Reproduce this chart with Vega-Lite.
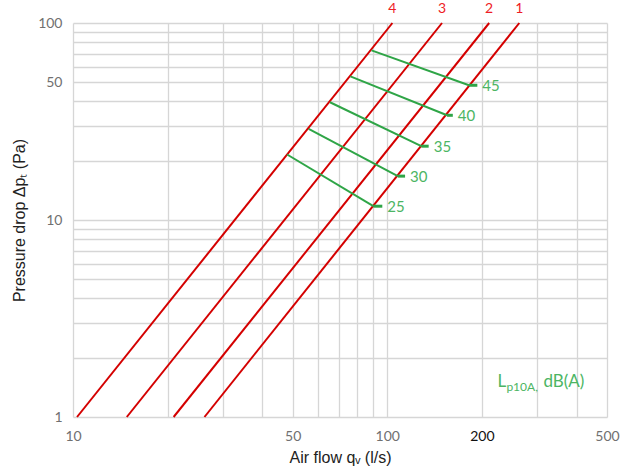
{
  "$schema": "https://vega.github.io/schema/vega-lite/v6.json",
  "width": 534,
  "height": 394,
  "autosize": {"type": "none"},
  "padding": {"left": 73, "top": 23, "right": 25, "bottom": 56},
  "background": "white",
  "config": {
    "view": {"stroke": null},
    "axis": {"labelFont": "Lato", "labelFontSize": 14, "titleFont": "Liberation Sans", "titleFontSize": 16, "titleFontWeight": "normal", "titleColor": "#222222", "gridColor": "#d6d6d6", "gridWidth": 1.3, "domain": false, "ticks": false, "tickSize": 0, "labelFlush": false, "labelOverlap": false}
  },
  "datasets": {
    "red": [
      {"line": "4", "q": 10.3, "dp": 1}, {"line": "4", "q": 103.8, "dp": 100},
      {"line": "3", "q": 14.83, "dp": 1}, {"line": "3", "q": 149.3, "dp": 100},
      {"line": "2", "q": 20.9, "dp": 1}, {"line": "2", "q": 210.9, "dp": 100},
      {"line": "1", "q": 26.2, "dp": 1}, {"line": "1", "q": 263, "dp": 100}
    ],
    "redLabels": [
      {"line": "4", "q": 103.8, "dp": 100},
      {"line": "3", "q": 149.3, "dp": 100},
      {"line": "2", "q": 210.9, "dp": 100},
      {"line": "1", "q": 263, "dp": 100}
    ],
    "green": [
      {"level": "45", "q": 89.1, "dp": 72.6}, {"level": "45", "q": 181.9, "dp": 48.3},
      {"level": "40", "q": 76.3, "dp": 53.6}, {"level": "40", "q": 154.9, "dp": 34.0},
      {"level": "35", "q": 65.7, "dp": 39.6}, {"level": "35", "q": 128.3, "dp": 23.7},
      {"level": "30", "q": 56.2, "dp": 29.0}, {"level": "30", "q": 108.0, "dp": 16.7},
      {"level": "25", "q": 48.0, "dp": 21.5}, {"level": "25", "q": 90.3, "dp": 11.75}
    ],
    "greenTicks": [
      {"level": "45", "q": 181.9, "q2": 193.4, "dp": 48.3},
      {"level": "40", "q": 154.9, "q2": 161.6, "dp": 34.0},
      {"level": "35", "q": 128.3, "q2": 135.4, "dp": 23.7},
      {"level": "30", "q": 108.0, "q2": 113.9, "dp": 16.7},
      {"level": "25", "q": 90.3, "q2": 96.4, "dp": 11.75}
    ],
    "legend": [{"q": 224, "dp": 1.5}]
  },
  "layer": [
    {
      "data": {"name": "red"},
      "mark": {"type": "line", "color": "#d40000", "strokeWidth": 2},
      "encoding": {
        "x": {"field": "q", "type": "quantitative",
          "scale": {"type": "log", "domain": [10, 500], "nice": false},
          "axis": {"title": "Air flow qᵥ (l/s)", "values": [10, 20, 30, 40, 50, 60, 70, 80, 90, 100, 200, 300, 400, 500],
            "labelExpr": "indexof([10, 50, 100, 200, 500], datum.value) >= 0 ? format(datum.value, 'd') : ''",
            "labelColor": {"expr": "datum.value == 200 ? '#111111' : '#707070'"},
            "labelPadding": 12, "titlePadding": 6}},
        "y": {"field": "dp", "type": "quantitative",
          "scale": {"type": "log", "domain": [1, 100], "nice": false},
          "axis": {"title": "Pressure drop Δpₜ (Pa)", "values": [1, 2, 3, 4, 5, 6, 7, 8, 9, 10, 20, 30, 40, 50, 60, 70, 80, 90, 100],
            "labelExpr": "indexof([1, 10, 50, 100], datum.value) >= 0 ? format(datum.value, 'd') : ''",
            "labelColor": "#707070", "labelPadding": 11, "titlePadding": 10}},
        "detail": {"field": "line", "type": "nominal"}
      }
    },
    {
      "data": {"name": "redLabels"},
      "mark": {"type": "text", "color": "#ee1c25", "font": "Lato", "fontSize": 14, "dy": -14, "baseline": "middle"},
      "encoding": {
        "x": {"field": "q", "type": "quantitative"},
        "y": {"field": "dp", "type": "quantitative"},
        "text": {"field": "line"}
      }
    },
    {
      "data": {"name": "green"},
      "mark": {"type": "line", "color": "#2fa547", "strokeWidth": 2},
      "encoding": {
        "x": {"field": "q", "type": "quantitative"},
        "y": {"field": "dp", "type": "quantitative"},
        "detail": {"field": "level", "type": "nominal"}
      }
    },
    {
      "data": {"name": "greenTicks"},
      "mark": {"type": "rule", "color": "#2fa547", "strokeWidth": 3},
      "encoding": {
        "x": {"field": "q", "type": "quantitative"},
        "x2": {"field": "q2"},
        "y": {"field": "dp", "type": "quantitative"}
      }
    },
    {
      "data": {"name": "greenTicks"},
      "mark": {"type": "text", "color": "#4cb563", "font": "Lato", "fontSize": 15, "align": "left", "baseline": "middle", "dx": 5, "dy": 1},
      "encoding": {
        "x": {"field": "q2", "type": "quantitative"},
        "y": {"field": "dp", "type": "quantitative"},
        "text": {"field": "level"}
      }
    },
    {
      "data": {"name": "legend"},
      "mark": {"type": "text", "color": "#4cb563", "font": "Lato", "fontSize": 17, "align": "left", "baseline": "middle", "text": "L"},
      "encoding": {
        "x": {"field": "q", "type": "quantitative"},
        "y": {"field": "dp", "type": "quantitative"}
      }
    },
    {
      "data": {"name": "legend"},
      "mark": {"type": "text", "color": "#4cb563", "font": "Lato", "fontSize": 12, "align": "left", "baseline": "middle", "dx": 9, "dy": 5, "text": "p10A,"},
      "encoding": {
        "x": {"field": "q", "type": "quantitative"},
        "y": {"field": "dp", "type": "quantitative"}
      }
    },
    {
      "data": {"name": "legend"},
      "mark": {"type": "text", "color": "#4cb563", "font": "Lato", "fontSize": 17, "align": "left", "baseline": "middle", "dx": 46, "text": "dB(A)"},
      "encoding": {
        "x": {"field": "q", "type": "quantitative"},
        "y": {"field": "dp", "type": "quantitative"}
      }
    }
  ]
}
